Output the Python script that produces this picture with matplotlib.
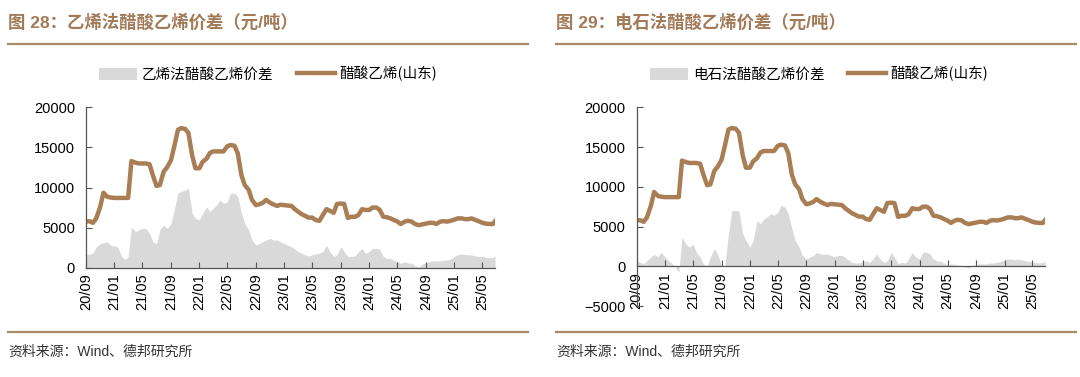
import numpy as np
import pandas as pd
import matplotlib
matplotlib.use('Agg')
import matplotlib.pyplot as plt
import matplotlib.dates as mdates
from matplotlib.lines import Line2D
from matplotlib.patches import Patch

plt.rcParams['font.family'] = ['Noto Sans CJK SC', 'DejaVu Sans']
MIXED = ['Liberation Sans', 'Noto Sans CJK SC', 'DejaVu Sans']

# half-month dates, 2020-09-01 .. 2025-06-16, plus last print
dates = list(pd.date_range('2020-09-01', '2025-06-16', freq='SMS')) + [pd.Timestamp('2025-06-24')]

# 醋酸乙烯(山东), 元/吨
va_price = [
    5750, 5800, 5600, 6150, 7600, 9350, 8850, 8750, 8700, 8700, 8700, 8700,
    8700, 13300, 13100, 13000, 13000, 13000, 12900, 11550, 10200, 10300, 12000, 12500,
    13400, 15100, 17200, 17400, 17300, 16800, 14000, 12400, 12400, 13200, 13600, 14300,
    14500, 14500, 14500, 14500, 15150, 15300, 15200, 14250, 11500, 10300, 9700, 8450,
    7800, 7900, 8100, 8450, 8100, 7900, 7700, 7850, 7800, 7750, 7700, 7300,
    7000, 6700, 6450, 6250, 6250, 5950, 5850, 6550, 7300, 7100, 6850, 7950,
    8000, 7950, 6200, 6350, 6350, 6550, 7300, 7200, 7200, 7500, 7500, 7200,
    6350, 6300, 6150, 5950, 5750, 5450, 5750, 5850, 5750, 5450, 5300, 5400,
    5500, 5600, 5600, 5450, 5750, 5800, 5750, 5850, 6000, 6150, 6150, 6050,
    6050, 6150, 5950, 5800, 5600, 5500, 5450, 5450, 5800,
]

# 乙烯法醋酸乙烯价差
spread_ethylene = [
    1600, 1700, 1800, 2600, 3000, 3100, 3250, 2800, 2700, 2600, 1400, 1000,
    1400, 5100, 4500, 4700, 4900, 4900, 4300, 3250, 3000, 4700, 5300, 4900,
    5500, 7200, 9300, 9500, 9700, 9900, 6800, 6150, 5950, 6800, 7600, 7000,
    7400, 7800, 8450, 8000, 8200, 9300, 9300, 8850, 6800, 5500, 4700, 3450,
    2800, 3000, 3250, 3450, 3650, 3450, 3450, 3250, 3000, 2800, 2600, 2300,
    2000, 1800, 1600, 1450, 1600, 1700, 1800, 2000, 2800, 2000, 1400, 1600,
    2600, 2000, 1400, 1400, 1450, 2000, 2400, 1800, 2000, 2400, 2400, 2300,
    1400, 1150, 1150, 950, 750, 550, 750, 600, 550, 250, 100, 450,
    600, 750, 850, 850, 850, 950, 950, 1050, 1400, 1600, 1700, 1650,
    1600, 1600, 1450, 1400, 1400, 1300, 1250, 1300, 1500,
]

# 电石法醋酸乙烯价差
spread_carbide = [
    700, 500, 300, 700, 1150, 1500, 1200, 1750, 1150, 700, 300, -100,
    -750, 3650, 2800, 2400, 2800, 1750, 1150, 300, 0, 1150, 2200, 1550,
    100, 100, 4100, 7000, 7000, 7000, 4100, 3250, 2400, 3250, 5750, 5350,
    5900, 6200, 6600, 6400, 6800, 7650, 7450, 6600, 4700, 3250, 2400, 1350,
    900, 1150, 1350, 1750, 1550, 1500, 1550, 1350, 1200, 1350, 1350, 1150,
    800, 500, 400, 400, 500, 700, 500, 900, 1550, 900, 500, 700,
    1750, 1150, 300, 500, 400, 900, 1750, 1150, 900, 1750, 1750, 1550,
    900, 700, 600, 400, 200, 300, 200, 150, 100, -100, -200, 100,
    200, 300, 300, 300, 400, 400, 500, 600, 800, 900, 900, 800,
    900, 800, 700, 600, 500, 450, 400, 500, 700,
]

titles = ['图 28：乙烯法醋酸乙烯价差（元/吨）', '图 29：电石法醋酸乙烯价差（元/吨）']
spread_names = ['乙烯法醋酸乙烯价差', '电石法醋酸乙烯价差']
price_name = '醋酸乙烯(山东)'
source = '资料来源：Wind、德邦研究所'

BROWN = '#A97E55'
RULE = '#A88A6C'
TITLE_C = '#A27A58'
GRAY = '#D9D9D9'
W, H = 1080, 377

fig = plt.figure(figsize=(10.8, 3.77), dpi=100)


def px(x0, y0, x1, y1):
    # pixel box -> figure fraction [left, bottom, width, height]
    return [x0 / W, 1 - y1 / H, (x1 - x0) / W, (y1 - y0) / H]


def panel(ox, axbox, spread, name, title, ymin, legend_cx):
    ax = fig.add_axes(px(*axbox))
    ax.fill_between(dates, spread, 0, color=GRAY, linewidth=0)
    ax.plot(dates, va_price, color=BROWN, lw=3.2, solid_joinstyle='round')
    ax.set_xlim(pd.Timestamp('2020-09-01'), pd.Timestamp('2025-06-24'))
    ax.set_ylim(ymin, 20000)
    ax.set_yticks(np.arange(ymin, 20001, 5000))
    ax.xaxis.set_major_locator(mdates.MonthLocator(bymonth=[1, 5, 9]))
    ax.xaxis.set_major_formatter(mdates.DateFormatter('%y/%m'))
    for s in ['top', 'right']:
        ax.spines[s].set_visible(False)
    ax.spines['bottom'].set_position(('data', 0))
    for s in ['left', 'bottom']:
        ax.spines[s].set_color('#555555')
        ax.spines[s].set_linewidth(0.9)
    ax.tick_params(axis='y', direction='in', length=4, color='#555555', pad=8)
    ax.tick_params(axis='x', direction='in', length=4, color='#555555', pad=4)
    for lab in ax.get_xticklabels():
        lab.set_rotation(90)
        lab.set_family('Liberation Sans')
        lab.set_fontsize(10.5)
    for lab in ax.get_yticklabels():
        lab.set_family('Liberation Sans')
        lab.set_fontsize(10.5)

    handles = [Patch(facecolor=GRAY, edgecolor='none'),
               Line2D([0], [0], color=BROWN, lw=3.2)]
    fig.legend(handles, [name, price_name], loc='center', ncol=2, frameon=False,
               bbox_to_anchor=(legend_cx / W, 1 - 74 / H), fontsize=10.5,
               handlelength=2.6, handleheight=0.9, handletextpad=0.3, columnspacing=1.6)

    fig.text((ox + 8) / W, 1 - 22 / H, title, fontsize=12.5, fontweight='bold',
             color=TITLE_C, va='center', ha='left', family=MIXED)
    fig.add_artist(Line2D([(ox + 8) / W, (ox + 528) / W], [1 - 44 / H] * 2, color=RULE, lw=1.6))
    fig.add_artist(Line2D([(ox + 8) / W, (ox + 528) / W], [1 - 332 / H] * 2, color=RULE, lw=1.6))
    fig.text((ox + 8) / W, 1 - 352 / H, source, fontsize=10, color='#333333',
             va='center', ha='left', family=MIXED)
    return ax


panel(0, (86, 107.3, 495, 267.7), spread_ethylene, spread_names[0], titles[0], 0, 268)
panel(548, (636.7, 107.3, 1045, 306), spread_carbide, spread_names[1], titles[1], -5000, 819)

fig.savefig('out.png', dpi=100)
